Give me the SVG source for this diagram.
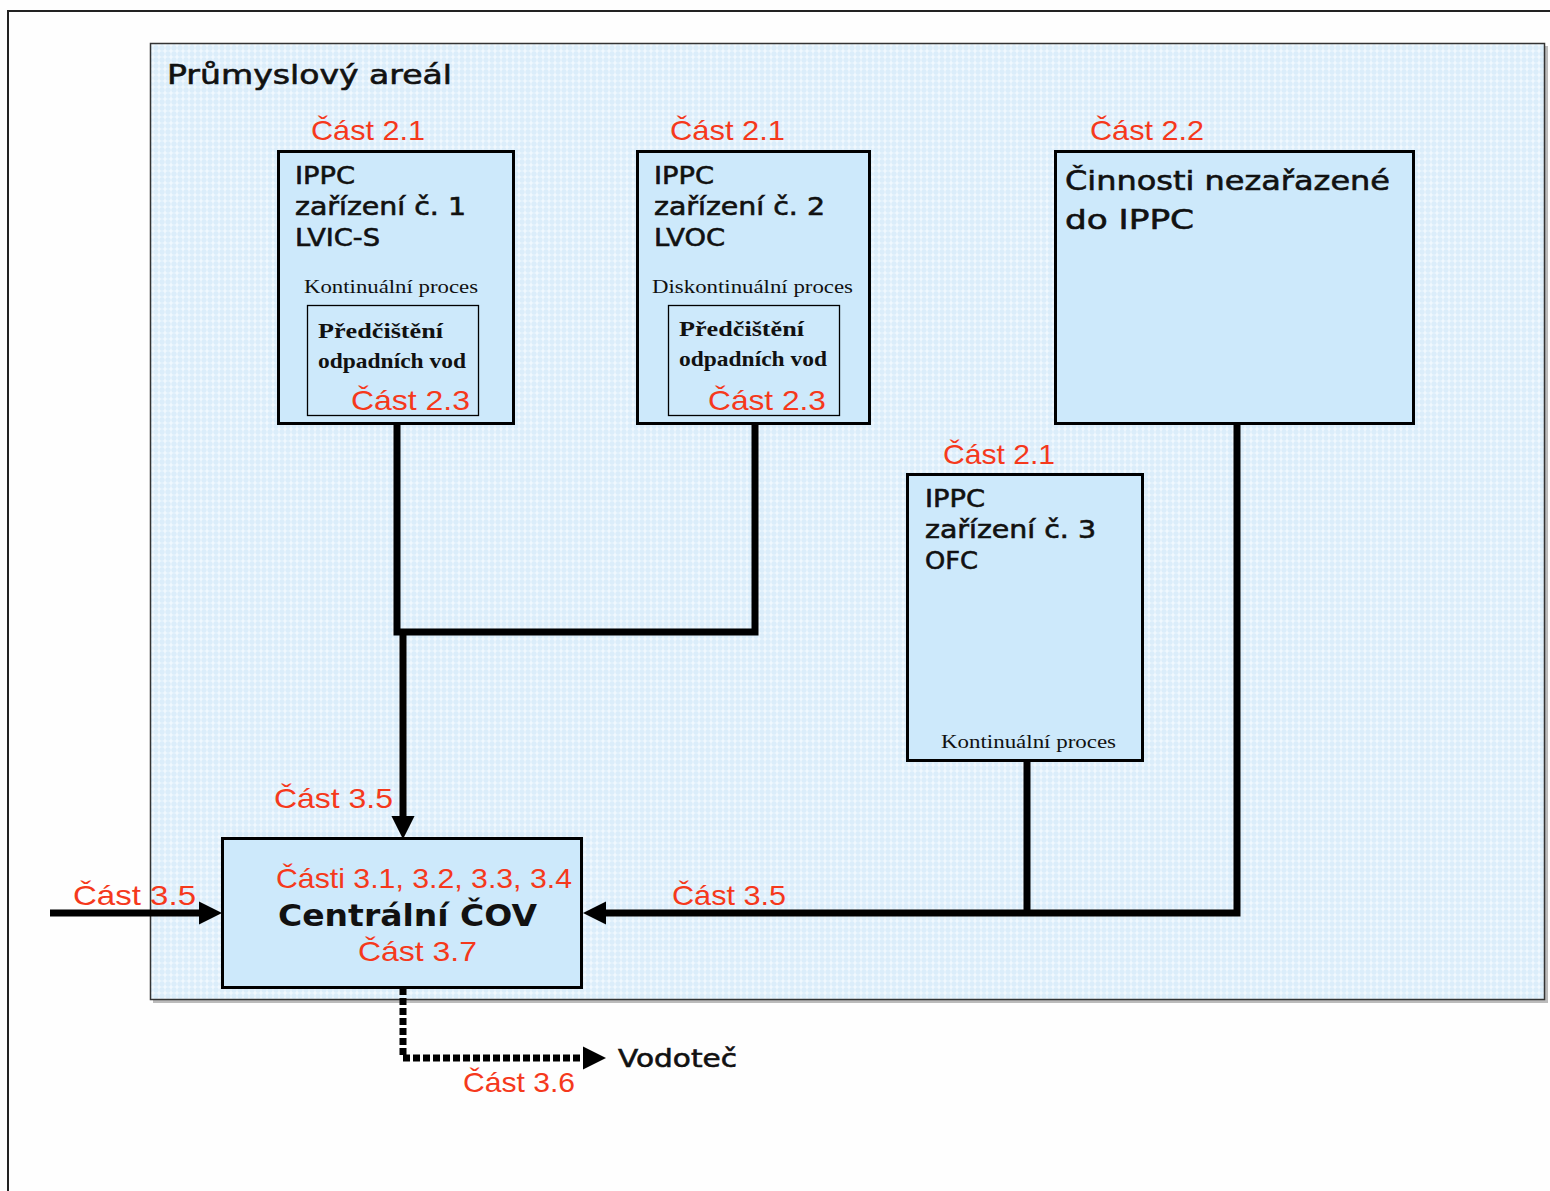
<svg xmlns="http://www.w3.org/2000/svg" width="1550" height="1191" viewBox="0 0 1550 1191">
<defs>
<pattern id="hatch" width="6" height="6" patternUnits="userSpaceOnUse">
<rect width="6" height="6" fill="#dbedfa"/>
<path d="M3 0.5V5.5M0.5 3H5.5" stroke="#f6fbff" stroke-width="1.2"/>
</pattern>
<marker id="ah" viewBox="0 0 10 10" refX="0" refY="5" markerWidth="3.3" markerHeight="3.3" markerUnits="strokeWidth" orient="auto">
<path d="M0 0L10 5L0 10Z" fill="#000"/>
</marker>
</defs>
<style>
.box{fill:#cde9fb;stroke:#000;stroke-width:3}
.inner{fill:none;stroke:#000;stroke-width:1.3}
.red{font-family:"Liberation Sans",Arial,sans-serif;font-size:28px;fill:#f5391c}
.hd{font-family:"DejaVu Sans",Verdana,sans-serif;font-size:25px;fill:#111;stroke:#111;stroke-width:0.6}
.big{font-family:"DejaVu Sans",Verdana,sans-serif;font-size:27px;fill:#111;stroke:#111;stroke-width:0.6}
.cov{font-family:"DejaVu Sans",Verdana,sans-serif;font-weight:bold;font-size:31px;fill:#111}
.ser{font-family:"Liberation Serif","Times New Roman",serif;font-size:19px;fill:#111}
.serb{font-family:"Liberation Serif","Times New Roman",serif;font-weight:bold;font-size:22px;fill:#111}
.wire{fill:none;stroke:#000;stroke-width:7}
</style>
<rect width="1550" height="1191" fill="#fefefe"/>
<path d="M8 1191V11H1550" fill="none" stroke="#222" stroke-width="2"/>
<g id="area">
<rect x="153" y="46" width="1395" height="957" fill="#bbb"/>
<rect x="150.5" y="43.5" width="1394" height="956" fill="url(#hatch)" stroke="#333" stroke-width="1.5"/>
<text x="167" y="84" class="big" textLength="285" lengthAdjust="spacingAndGlyphs">Průmyslový areál</text>
</g>
<g id="connectors">
<path class="wire" d="M397 424V632H755V424"/>
<path class="wire" d="M403 630V816" marker-end="url(#ah)"/>
<path class="wire" d="M1237 424V913H606" marker-end="url(#ah)"/>
<path class="wire" d="M1027 761V913"/>
<path class="wire" d="M50 913H199" marker-end="url(#ah)"/>
<path class="wire" d="M403 988V1058H583" stroke-dasharray="7 3" marker-end="url(#ah)"/>
<text x="274" y="808" class="red" textLength="119" lengthAdjust="spacingAndGlyphs">Část 3.5</text>
<text x="73" y="905" class="red" textLength="123" lengthAdjust="spacingAndGlyphs">Část  3.5</text>
<text x="672" y="905" class="red" textLength="114" lengthAdjust="spacingAndGlyphs">Část 3.5</text>
<text x="463" y="1092" class="red" textLength="112" lengthAdjust="spacingAndGlyphs">Část 3.6</text>
<text x="618" y="1067" class="hd" textLength="119" lengthAdjust="spacingAndGlyphs">Vodoteč</text>
</g>
<g id="ippc1">
<text x="311" y="140" class="red" textLength="114" lengthAdjust="spacingAndGlyphs">Část 2.1</text>
<rect x="278.5" y="151.5" width="235" height="272" class="box"/>
<text x="295" y="184" class="hd" textLength="60" lengthAdjust="spacingAndGlyphs">IPPC</text>
<text x="295" y="215" class="hd" textLength="171" lengthAdjust="spacingAndGlyphs">zařízení č. 1</text>
<text x="295" y="246" class="hd" textLength="85" lengthAdjust="spacingAndGlyphs">LVIC-S</text>
<text x="304" y="293" class="ser" textLength="174" lengthAdjust="spacingAndGlyphs">Kontinuální proces</text>
<rect x="307.5" y="305.5" width="171" height="110" class="inner"/>
<text x="318" y="338" class="serb" textLength="125" lengthAdjust="spacingAndGlyphs">Předčištění</text>
<text x="318" y="368" class="serb" textLength="148" lengthAdjust="spacingAndGlyphs">odpadních vod</text>
<text x="351" y="410" class="red" textLength="119" lengthAdjust="spacingAndGlyphs">Část 2.3</text>
</g>
<g id="ippc2">
<text x="670" y="140" class="red" textLength="115" lengthAdjust="spacingAndGlyphs">Část 2.1</text>
<rect x="637.5" y="151.5" width="232" height="272" class="box"/>
<text x="654" y="184" class="hd" textLength="60" lengthAdjust="spacingAndGlyphs">IPPC</text>
<text x="654" y="215" class="hd" textLength="171" lengthAdjust="spacingAndGlyphs">zařízení č. 2</text>
<text x="654" y="246" class="hd" textLength="71" lengthAdjust="spacingAndGlyphs">LVOC</text>
<text x="652" y="293" class="ser" textLength="201" lengthAdjust="spacingAndGlyphs">Diskontinuální proces</text>
<rect x="668.5" y="305.5" width="171" height="110" class="inner"/>
<text x="679" y="336" class="serb" textLength="125" lengthAdjust="spacingAndGlyphs">Předčištění</text>
<text x="679" y="366" class="serb" textLength="148" lengthAdjust="spacingAndGlyphs">odpadních vod</text>
<text x="708" y="410" class="red" textLength="118" lengthAdjust="spacingAndGlyphs">Část 2.3</text>
</g>
<g id="cinnosti">
<text x="1090" y="140" class="red" textLength="114" lengthAdjust="spacingAndGlyphs">Část 2.2</text>
<rect x="1055.5" y="151.5" width="358" height="272" class="box"/>
<text x="1065" y="190" class="big" textLength="325" lengthAdjust="spacingAndGlyphs">Činnosti nezařazené</text>
<text x="1065" y="229" class="big" textLength="129" lengthAdjust="spacingAndGlyphs">do IPPC</text>
</g>
<g id="ippc3">
<text x="943" y="464" class="red" textLength="112" lengthAdjust="spacingAndGlyphs">Část 2.1</text>
<rect x="907.5" y="474.5" width="235" height="286" class="box"/>
<text x="925" y="507" class="hd" textLength="60" lengthAdjust="spacingAndGlyphs">IPPC</text>
<text x="925" y="538" class="hd" textLength="171" lengthAdjust="spacingAndGlyphs">zařízení č. 3</text>
<text x="925" y="569" class="hd" textLength="53" lengthAdjust="spacingAndGlyphs">OFC</text>
<text x="941" y="748" class="ser" textLength="175" lengthAdjust="spacingAndGlyphs">Kontinuální proces</text>
</g>
<g id="cov">
<rect x="222.5" y="838.5" width="359" height="149" class="box"/>
<text x="276" y="888" class="red" textLength="296" lengthAdjust="spacingAndGlyphs">Části 3.1, 3.2, 3.3, 3.4</text>
<text x="278" y="926" class="cov" textLength="259" lengthAdjust="spacingAndGlyphs">Centrální ČOV</text>
<text x="358" y="961" class="red" textLength="119" lengthAdjust="spacingAndGlyphs">Část 3.7</text>
</g>
</svg>
